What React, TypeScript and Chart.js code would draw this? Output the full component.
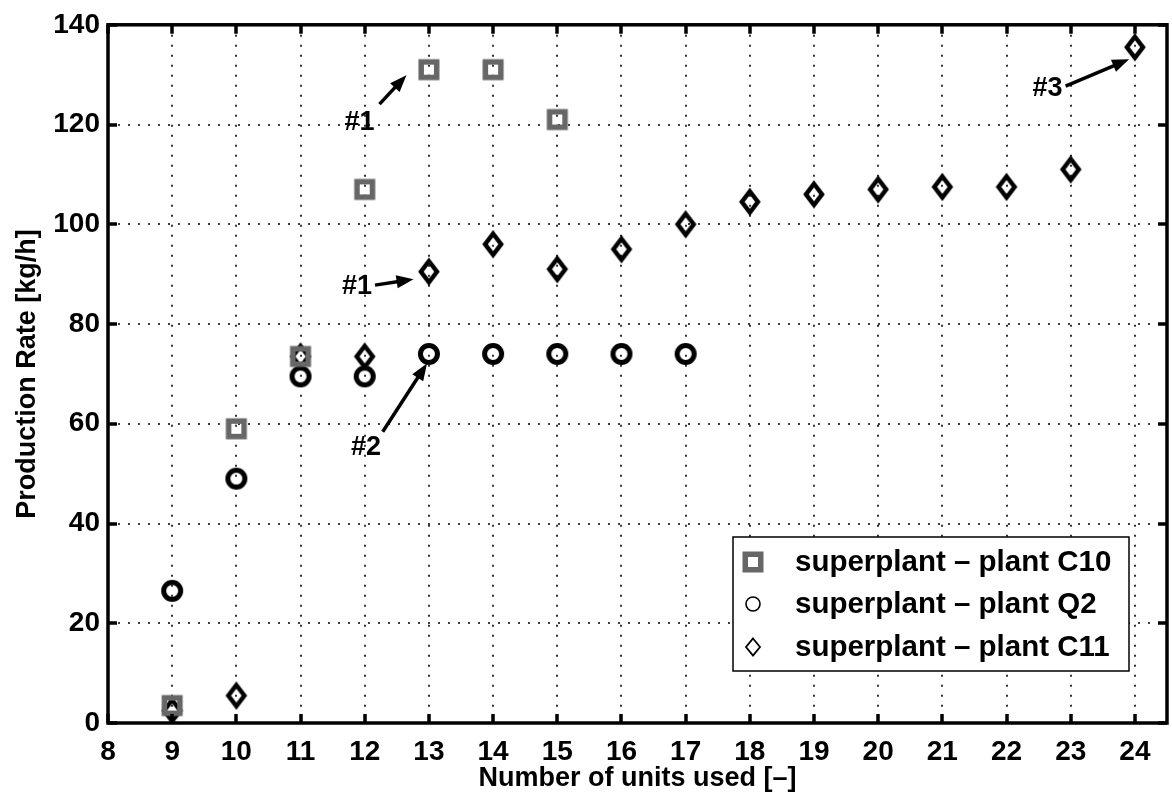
import React, { useEffect, useRef } from "react";
import { Chart, registerables } from "chart.js";

Chart.register(...registerables);

// ---- data ----
const unitsC10 = [9, 10, 11, 12, 13, 14, 15];
const rateC10 = [3.5, 59, 73.5, 107, 131, 131, 121];

const unitsQ2 = [9, 10, 11, 12, 13, 14, 15, 16, 17];
const rateQ2 = [26.5, 49, 69.5, 69.5, 74, 74, 74, 74, 74];

const unitsC11 = [9, 10, 11, 12, 13, 14, 15, 16, 17, 18, 19, 20, 21, 22, 23, 24];
const rateC11 = [2.5, 5.5, 73.5, 73.5, 90.5, 96, 91, 95, 100, 104.5, 106, 107, 107.5, 107.5, 111, 135.5];

const xTicks = [8, 9, 10, 11, 12, 13, 14, 15, 16, 17, 18, 19, 20, 21, 22, 23, 24];
const yTicks = [0, 20, 40, 60, 80, 100, 120, 140];

const seriesNames = ["superplant \u2013 plant C10", "superplant \u2013 plant Q2", "superplant \u2013 plant C11"];
const xTitle = "Number of units used [\u2013]";
const yTitle = "Production Rate [kg/h]";

// annotations: label, label position (data), arrow from / to (data)
const annoLabels = ["#1", "#1", "#2", "#3"];
const annoLabelAt = [
  [11.92, 120.3],
  [11.88, 87.6],
  [12.02, 55.2],
  [22.64, 127.3],
];
const annoArrowFrom = [
  [12.23, 124.1],
  [12.16, 87.8],
  [12.28, 58.4],
  [22.92, 127.7],
];
const annoArrowTo = [
  [12.65, 129.9],
  [12.76, 89.0],
  [12.97, 72.1],
  [23.91, 133.1],
];

const FONT = "'Liberation Sans', Arial, Helvetica, sans-serif";
const GRAY = "#676767";

function makeMarker(kind: string, thin: boolean): HTMLCanvasElement {
  const c = document.createElement("canvas");
  const w = 32;
  const h = 36;
  c.width = w;
  c.height = h;
  const g = c.getContext("2d")!;
  const cx = w / 2;
  const cy = h / 2;
  g.lineJoin = "miter";
  if (kind === "square") {
    g.strokeStyle = GRAY;
    g.lineWidth = 5.5;
    g.strokeRect(cx - 7.75, cy - 7.75, 15.5, 15.5);
  } else if (kind === "circle") {
    g.strokeStyle = "#000";
    g.lineWidth = thin ? 1.6 : 5;
    g.beginPath();
    g.arc(cx, cy, thin ? 7 : 8.5, 0, Math.PI * 2);
    g.stroke();
  } else {
    g.strokeStyle = "#000";
    g.lineWidth = thin ? 1.8 : 4.5;
    const hw = thin ? 7 : 8;
    const hh = thin ? 8.5 : 10.5;
    g.beginPath();
    g.moveTo(cx, cy - hh);
    g.lineTo(cx + hw, cy);
    g.lineTo(cx, cy + hh);
    g.lineTo(cx - hw, cy);
    g.closePath();
    g.stroke();
  }
  return c;
}

function drawArrow(ctx: CanvasRenderingContext2D, x1: number, y1: number, x2: number, y2: number) {
  const ang = Math.atan2(y2 - y1, x2 - x1);
  const headLen = 17;
  const headW = 6.5;
  const bx = x2 - headLen * Math.cos(ang);
  const by = y2 - headLen * Math.sin(ang);
  ctx.save();
  ctx.strokeStyle = "#000";
  ctx.fillStyle = "#000";
  ctx.lineWidth = 3.5;
  ctx.setLineDash([]);
  ctx.beginPath();
  ctx.moveTo(x1, y1);
  ctx.lineTo(bx + 2 * Math.cos(ang), by + 2 * Math.sin(ang));
  ctx.stroke();
  ctx.beginPath();
  ctx.moveTo(x2, y2);
  ctx.lineTo(bx + headW * Math.sin(ang), by - headW * Math.cos(ang));
  ctx.lineTo(bx - headW * Math.sin(ang), by + headW * Math.cos(ang));
  ctx.closePath();
  ctx.fill();
  ctx.restore();
}

export default function App() {
  const ref = useRef<HTMLCanvasElement | null>(null);

  useEffect(() => {
    if (!ref.current) return;
    const mSquare = makeMarker("square", false);
    const mCircle = makeMarker("circle", false);
    const mDiamond = makeMarker("diamond", false);
    const lSquare = makeMarker("square", true);
    const lCircle = makeMarker("circle", true);
    const lDiamond = makeMarker("diamond", true);

    const framePlugin = {
      id: "frame",
      beforeDatasetsDraw(chart: any) {
        const { ctx, chartArea: a, scales } = chart;
        const xs = scales.x;
        const ys = scales.y;
        ctx.save();
        ctx.strokeStyle = "#000";
        ctx.lineWidth = 1.6;
        ctx.setLineDash([2, 8]);
        xTicks.forEach((v) => {
          if (v === 8) return;
          const px = Math.round(xs.getPixelForValue(v));
          ctx.beginPath();
          ctx.moveTo(px, a.top);
          ctx.lineTo(px, a.bottom);
          ctx.stroke();
        });
        yTicks.forEach((v) => {
          if (v === 0 || v === 140) return;
          const py = Math.round(ys.getPixelForValue(v));
          ctx.beginPath();
          ctx.moveTo(a.left, py);
          ctx.lineTo(a.right, py);
          ctx.stroke();
        });
        ctx.restore();
      },
      afterDatasetsDraw(chart: any) {
        const { ctx, chartArea: a, scales } = chart;
        const xs = scales.x;
        const ys = scales.y;
        ctx.save();
        ctx.setLineDash([]);
        ctx.strokeStyle = "#000";
        ctx.lineWidth = 3.5;
        const tl = 9;
        xTicks.forEach((v) => {
          const px = Math.round(xs.getPixelForValue(v));
          ctx.beginPath();
          ctx.moveTo(px, a.bottom);
          ctx.lineTo(px, a.bottom - tl);
          ctx.moveTo(px, a.top);
          ctx.lineTo(px, a.top + tl);
          ctx.stroke();
        });
        yTicks.forEach((v) => {
          const py = Math.round(ys.getPixelForValue(v));
          ctx.beginPath();
          ctx.moveTo(a.left, py);
          ctx.lineTo(a.left + tl, py);
          ctx.moveTo(a.right, py);
          ctx.lineTo(a.right - tl, py);
          ctx.stroke();
        });
        ctx.lineWidth = 3.5;
        ctx.strokeRect(a.left, a.top, a.right - a.left, a.bottom - a.top);
        ctx.restore();
      },
      afterDraw(chart: any) {
        const { ctx, chartArea: a, scales } = chart;
        const xs = scales.x;
        const ys = scales.y;
        ctx.save();
        // annotations
        ctx.fillStyle = "#000";
        ctx.font = `bold 27px ${FONT}`;
        ctx.textAlign = "center";
        ctx.textBaseline = "middle";
        annoLabels.forEach((t, i) => {
          ctx.fillText(t, xs.getPixelForValue(annoLabelAt[i][0]), ys.getPixelForValue(annoLabelAt[i][1]));
          drawArrow(
            ctx,
            xs.getPixelForValue(annoArrowFrom[i][0]),
            ys.getPixelForValue(annoArrowFrom[i][1]),
            xs.getPixelForValue(annoArrowTo[i][0]),
            ys.getPixelForValue(annoArrowTo[i][1])
          );
        });

        // legend
        const lx = 733;
        const ly = 537;
        const lw = 1129 - lx;
        const lh = 671 - ly;
        ctx.fillStyle = "#fff";
        ctx.fillRect(lx, ly, lw, lh);
        ctx.strokeStyle = "#000";
        ctx.lineWidth = 1.5;
        ctx.strokeRect(lx, ly, lw, lh);
        const rowsY = [562, 604, 647];
        const marks = [lSquare, lCircle, lDiamond];
        ctx.font = `bold 29.5px ${FONT}`;
        ctx.textAlign = "left";
        ctx.textBaseline = "middle";
        ctx.fillStyle = "#000";
        seriesNames.forEach((n, i) => {
          const m = marks[i];
          ctx.drawImage(m, 753 - m.width / 2, rowsY[i] - m.height / 2);
          ctx.fillText(n, 795, rowsY[i] + 1);
        });

        // axis titles
        ctx.font = `bold 27px ${FONT}`;
        ctx.textAlign = "center";
        ctx.textBaseline = "middle";
        ctx.fillText(xTitle, (a.left + a.right) / 2, 779);
        ctx.save();
        ctx.translate(28, (a.top + a.bottom) / 2);
        ctx.rotate(-Math.PI / 2);
        ctx.fillText(yTitle, 0, 0);
        ctx.restore();
        ctx.restore();
      },
    };

    const chart = new Chart(ref.current, {
      type: "scatter",
      data: {
        datasets: [
          {
            label: seriesNames[0],
            data: unitsC10.map((x, i) => ({ x, y: rateC10[i] })),
            pointStyle: mSquare as any,
            showLine: false,
          },
          {
            label: seriesNames[1],
            data: unitsQ2.map((x, i) => ({ x, y: rateQ2[i] })),
            pointStyle: mCircle as any,
            showLine: false,
          },
          {
            label: seriesNames[2],
            data: unitsC11.map((x, i) => ({ x, y: rateC11[i] })),
            pointStyle: mDiamond as any,
            showLine: false,
          },
        ],
      },
      options: {
        animation: false,
        responsive: false,
        maintainAspectRatio: false,
        layout: { padding: { top: 20, right: 4, left: 0, bottom: 0 } },
        plugins: { legend: { display: false }, tooltip: { enabled: false } },
        scales: {
          x: {
            type: "linear",
            min: 8,
            max: 24.5,
            afterBuildTicks: (s: any) => {
              s.ticks = xTicks.map((v) => ({ value: v }));
            },
            afterFit: (s: any) => {
              s.height = 76;
            },
            grid: { display: false, drawTicks: false },
            border: { display: false },
            ticks: {
              color: "#000",
              font: { family: FONT, size: 28, weight: "bold" },
              padding: 12,
              maxRotation: 0,
              autoSkip: false,
            },
          },
          y: {
            type: "linear",
            min: 0,
            max: 140,
            afterBuildTicks: (s: any) => {
              s.ticks = yTicks.map((v) => ({ value: v }));
            },
            afterFit: (s: any) => {
              s.width = 108;
            },
            grid: { display: false, drawTicks: false },
            border: { display: false },
            ticks: {
              color: "#000",
              font: { family: FONT, size: 28, weight: "bold" },
              padding: 8,
              autoSkip: false,
            },
          },
        },
      },
      plugins: [framePlugin],
    });
    return () => chart.destroy();
  }, []);

  return (
    <div style={{ position: "fixed", left: 0, top: 0, width: 1172, height: 799, background: "#fff" }}>
      <canvas ref={ref} width={1172} height={799} style={{ width: 1172, height: 799, display: "block" }} />
    </div>
  );
}
